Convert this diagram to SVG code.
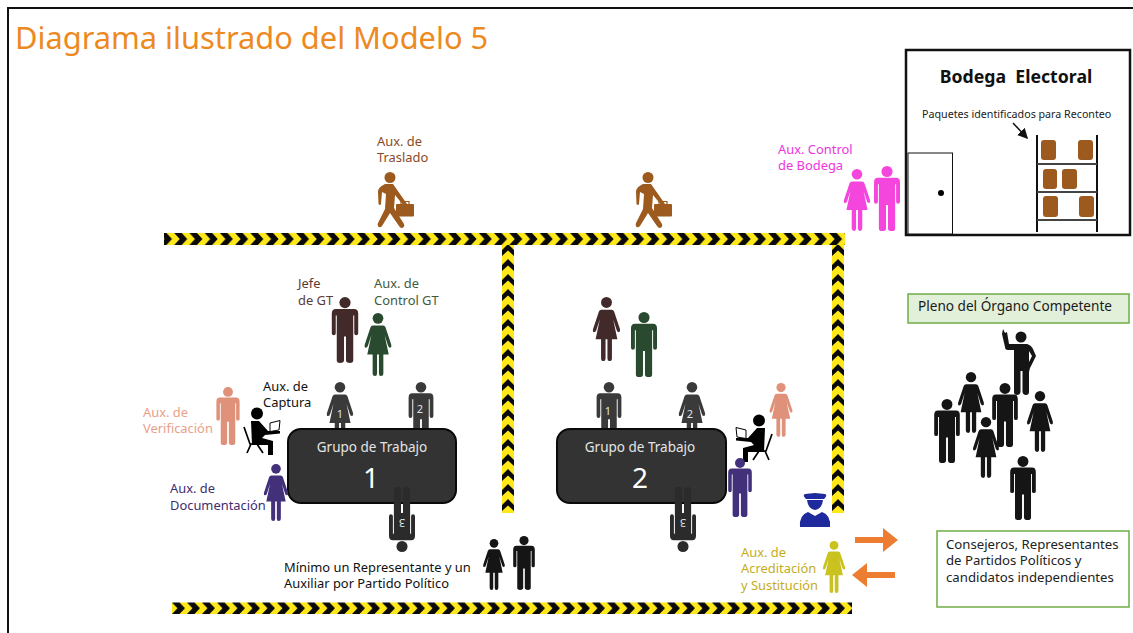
<svg xmlns="http://www.w3.org/2000/svg" width="1133" height="633" viewBox="0 0 1133 633">
<style>
text{font-family:"Noto Sans","Open Sans","DejaVu Sans",sans-serif;font-size:12.9px}
.num{fill:#dfe6ee;font-size:11px;text-anchor:middle}
.gt{fill:#e4e4e4;font-size:13.500px;text-anchor:middle}
.gn{fill:#fff;font-size:28px;text-anchor:middle}
.box{fill:#333;stroke:#0a0a0a;stroke-width:2}
.tag{stroke:#70ad47;stroke-width:1.500}
.pk{fill:#9c5a1e}
</style>
<defs>
<path id="man-body" d="M-14 18H14Q20 18 20 25V55Q20 58 17 58Q14 58 14 55V28H12.500V96Q12.500 100 7.500 100Q1.500 100 1.500 96V60H-1.500V96Q-1.500 100-7.500 100Q-12.500 100-12.500 96V28H-14V55Q-14 58-17 58Q-20 58-20 55V25Q-20 18-14 18Z"/>
<g id="man"><circle cx="0" cy="8.500" r="8.500"/><use href="#man-body"/></g>
<g id="woman"><circle cx="0" cy="8.500" r="8.500"/><path d="M-8 20H8Q11 20 12 23L21 50Q22 54 19.500 55Q17 55 16 52L10.500 35L17 66H8.500V96Q8.500 100 4.500 100Q1.500 100 1.500 96V66H-1.500V96Q-1.500 100-4.500 100Q-8.500 100-8.500 96V66H-17L-10.500 35L-16 52Q-17 55-19.500 55Q-22 55-21 50L-12 23Q-11 20-8 20Z"/></g>
<g id="walker" fill="#9c5a1e">
<circle cx="390" cy="177.500" r="5.500"/>
<path d="M385 184H393L407 204 404 206 395 195 394 208 404 224Q405 227 402 228 400 228 399 226L390 213 382 226Q380 228 378.500 227 377 225 378 223L385 209 386 194 382 192 381 204Q380 206 378.500 204L378 192Q378 187 385 184Z"/>
<rect x="396" y="204" width="18" height="12.500" rx="1"/>
<path d="M401 204V201.500H409V204" fill="none" stroke="#9c5a1e" stroke-width="1.200"/>
</g>
<g id="seated">
<circle cx="257" cy="413.500" r="6"/>
<path d="M251 421H259L268 431H280V433.500L265 435 262 438 273 441V455H268V445H252Z" fill="#000"/>
<path d="M244 427L250 444H261M251 444L247 453M257 444L263 453" fill="none" stroke="#000" stroke-width="1.700"/>
<path d="M270 423L280 420.500 279 430 270 431.500Z" fill="#fff" stroke="#000" stroke-width="1"/>
</g>
<pattern id="chev-top" patternUnits="userSpaceOnUse" width="15.230" height="12" x="357" y="233"><rect width="15.300" height="12" fill="#ffe81a"/><path d="M0 0H7.500L13 6 7.500 12H0L5.500 6Z" fill="#0a0a0a"/></pattern>
<pattern id="chev-bot" patternUnits="userSpaceOnUse" width="15" height="11.500" x="172" y="602.500"><rect width="15" height="11.500" fill="#ffe81a"/><path d="M0 0H7.500L13 5.750 7.500 11.500H0L5.500 5.750Z" fill="#0a0a0a"/></pattern>
<pattern id="chev-v1" patternUnits="userSpaceOnUse" width="12" height="15" x="502" y="243"><rect width="12" height="15" fill="#ffe81a"/><path d="M0 13V7L6 1 12 7V13L6 7.500Z" fill="#0a0a0a"/></pattern>
<pattern id="chev-v2" patternUnits="userSpaceOnUse" width="12" height="15" x="832" y="243"><rect width="12" height="15" fill="#ffe81a"/><path d="M0 13V7L6 1 12 7V13L6 7.500Z" fill="#0a0a0a"/></pattern>
<marker id="blk" markerWidth="7" markerHeight="7" refX="6" refY="3.500" orient="auto"><path d="M0 0L7 3.500 0 7Z" fill="#111"/></marker>
</defs>
<rect width="1133" height="633" fill="#fff"/>
<path d="M8 633V8H1133" fill="none" stroke="#111" stroke-width="2"/>
<text id="title" x="15" y="49" style="font-size:30.800px;fill:#ed8a1f">Diagrama ilustrado del Modelo 5</text>

<g id="connectors">
<rect x="164" y="233" width="681" height="12" fill="url(#chev-top)"/>
<rect x="172" y="602.500" width="680" height="11.500" fill="url(#chev-bot)"/>
<rect x="502" y="245" width="12" height="268" fill="url(#chev-v1)"/>
<rect x="832" y="245" width="12" height="268" fill="url(#chev-v2)"/>
<path d="M855 537H883V528L898 540 883 552V543H855Z" fill="#ed7d31"/>
<path d="M852 575L867 563V572H895V578H867V587Z" fill="#ed7d31"/>
</g>

<g id="aux-traslado"><text x="377" y="146" style="fill:#8a4a1e">Aux. de</text><text x="377" y="162" style="fill:#8a4a1e">Traslado</text><use href="#walker"/></g>
<g id="aux-traslado-2"><use href="#walker" transform="translate(258 0)"/></g>

<g id="aux-bodega"><text x="778" y="154" style="fill:#f035e0">Aux. Control</text><text x="778" y="170" style="fill:#f035e0">de Bodega</text>
<use href="#woman" transform="translate(857 169) scale(.62)" fill="#f445dd"/><use href="#man" transform="translate(887 166) scale(.65)" fill="#f445dd"/></g>

<g id="bodega">
<rect x="906" y="50" width="224" height="185" fill="#fff" stroke="#111" stroke-width="2.500"/>
<text x="1016" y="83" text-anchor="middle" style="font-size:17.700px;font-weight:700;fill:#111;white-space:pre">Bodega  Electoral</text>
<text x="922" y="118" style="font-size:10.700px;fill:#222">Paquetes identificados para Reconteo</text>
<path d="M1013 123L1027 138" stroke="#111" stroke-width="1.500" marker-end="url(#blk)"/>
<rect x="908" y="153" width="44.500" height="81" fill="#fff" stroke="#111"/>
<circle cx="941" cy="193" r="3" fill="#000"/>
<path d="M1037 135V232M1097 135V232" stroke="#111" stroke-width="2"/>
<path d="M1037 164H1097M1037 192H1097M1037 220H1097" stroke="#444" stroke-width="2"/>
<rect class="pk" x="1041" y="140" width="15" height="20" rx="3"/><rect class="pk" x="1078" y="140" width="15" height="20" rx="3"/>
<rect class="pk" x="1043" y="169" width="14" height="20" rx="3"/><rect class="pk" x="1062" y="169" width="15" height="20" rx="3"/>
<rect class="pk" x="1043" y="196" width="15" height="21" rx="3"/><rect class="pk" x="1079" y="196" width="15" height="21" rx="3"/>
</g>

<g id="jefe-1"><text x="298" y="288" style="fill:#5a3a33">Jefe</text><text x="298" y="305" style="fill:#5a3a33">de GT</text><use href="#man" transform="translate(345 297) scale(.66)" fill="#432a2a"/></g>
<g id="control-1"><text x="374" y="288" style="fill:#3f5a3c">Aux. de</text><text x="374" y="305" style="fill:#3f5a3c">Control GT</text><use href="#woman" transform="translate(378 313) scale(.63)" fill="#2a4a30"/></g>
<g id="verif-1"><text x="143" y="417" style="fill:#e8a08a">Aux. de</text><text x="143" y="433" style="fill:#e8a08a">Verificación</text><use href="#man" transform="translate(228 387) scale(.58)" fill="#e0917a"/></g>
<g id="captura-1"><text x="263" y="391" style="fill:#111">Aux. de</text><text x="263" y="407" style="fill:#111">Captura</text><use href="#seated"/></g>

<g id="gt-1-p1"><use href="#woman" transform="translate(340 382) scale(.62)" fill="#3a3a3a"/><text class="num" x="340" y="418">1</text></g>
<g id="gt-1-p2"><use href="#man" transform="translate(421 382) scale(.62)" fill="#3a3a3a"/><text class="num" x="420" y="413">2</text></g>
<g id="gt-1"><rect class="box" x="288" y="429" width="168" height="74" rx="13"/><text class="gt" x="372" y="452">Grupo de Trabajo</text><text class="gn" x="371" y="488">1</text></g>
<g id="gt-1-p3"><use href="#man" transform="translate(402 552) scale(.65 -.65)" fill="#2b2b2b"/><text class="num" transform="rotate(180 402 523)" x="402" y="527">3</text></g>
<g id="doc-1"><text x="170" y="493" style="fill:#3f2d72">Aux. de</text><text x="170" y="510" style="fill:#3f2d72">Documentación</text><use href="#woman" transform="translate(276 464) scale(.57)" fill="#43307a"/></g>
<g id="representantes"><text x="284" y="572" style="fill:#111">Mínimo un Representante y un</text><text x="284" y="588" style="fill:#111">Auxiliar por Partido Político</text>
<use href="#woman" transform="translate(494 539) scale(.51)" fill="#151515"/><use href="#man" transform="translate(524 536) scale(.54)" fill="#151515"/></g>

<g id="jefe-2"><use href="#woman" transform="translate(606.500 297) scale(.64)" fill="#432a2a"/></g>
<g id="control-2"><use href="#man" transform="translate(644 312) scale(.65)" fill="#2a4a30"/></g>
<g id="gt-2-p1"><use href="#man" transform="translate(609 382) scale(.62)" fill="#3a3a3a"/><text class="num" x="608" y="415">1</text></g>
<g id="gt-2-p2"><use href="#woman" transform="translate(692 382) scale(.62)" fill="#3a3a3a"/><text class="num" x="690" y="418">2</text></g>
<g id="gt-2"><rect class="box" x="557" y="429" width="169" height="74" rx="13"/><text class="gt" x="640" y="452">Grupo de Trabajo</text><text class="gn" x="640" y="488">2</text></g>
<g id="gt-2-p3"><use href="#man" transform="translate(683 552) scale(.65 -.65)" fill="#2b2b2b"/><text class="num" transform="rotate(180 683 523)" x="683" y="527">3</text></g>
<g id="verif-2"><use href="#woman" transform="translate(781 383) scale(.54)" fill="#e0917a"/></g>
<g id="captura-2"><use href="#seated" transform="translate(1016 7) scale(-1 1)"/></g>
<g id="doc-2"><use href="#man" transform="translate(740 458) scale(.59)" fill="#43307a"/></g>
<g id="oficial" fill="#1f2a9c">
<path d="M806 499Q802 495 805 494L815 493 825 494Q828 495 824 499Z"/>
<path d="M807 500H823Q822 509 815 510 808 509 807 500Z"/>
<path d="M800 527Q799 515 808 512L815 516 822 512Q831 515 830 527Z"/>
</g>
<g id="acreditacion"><text x="741" y="557" style="fill:#c4ad1c">Aux. de</text><text x="741" y="573" style="fill:#c4ad1c">Acreditación</text><text x="741" y="590" style="fill:#c4ad1c">y Sustitución</text><use href="#woman" transform="translate(834 541) scale(.52)" fill="#c9c21f"/></g>

<g id="pleno"><rect class="tag" x="908" y="294" width="221" height="29" fill="#e2efd9"/><text x="918" y="311" style="font-size:13.600px;fill:#1a1a1a">Pleno del Órgano Competente</text></g>
<g id="publico" fill="#151515">
<circle cx="1021" cy="337" r="5.500"/>
<path d="M1014 344H1027Q1031 345 1033 349L1036 356 1030 368 1029 372V392Q1029 395 1026 395 1023 395 1022.500 392V371H1020.500V392Q1020 395 1017 395 1014 395 1014 392V350L1008 350Q1005 350 1005 347L1002 334 1003 329 1005 333 1007 332 1009 344ZM1029 351L1029 362 1032 356Z"/>
<use href="#woman" transform="translate(971 372) scale(.61)"/>
<use href="#man" transform="translate(947 399) scale(.64)"/>
<use href="#man" transform="translate(1005 383) scale(.64)"/>
<use href="#woman" transform="translate(1040 391) scale(.61)"/>
<use href="#woman" transform="translate(986 417) scale(.61)"/>
<use href="#man" transform="translate(1023 456) scale(.64)"/>
</g>
<g id="consejeros"><rect class="tag" x="937" y="531" width="192" height="76" fill="#fff"/><text x="946" y="549" style="font-size:13.200px;fill:#222">Consejeros, Representantes</text><text x="946" y="565" style="font-size:13.200px;fill:#222">de Partidos Políticos y</text><text x="946" y="582" style="font-size:13.200px;fill:#222">candidatos independientes</text></g>
</svg>
